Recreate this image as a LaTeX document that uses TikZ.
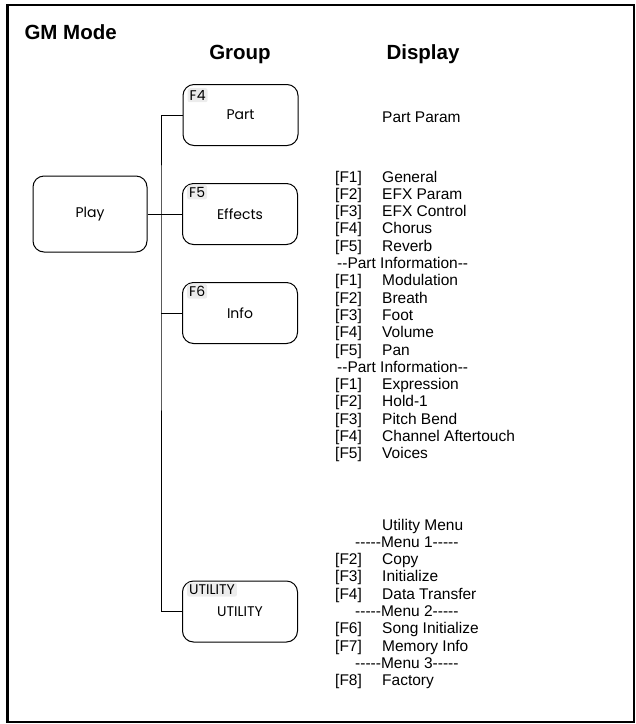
\documentclass[tikz,border=0pt]{standalone}
\usepackage{fontspec}
\setmainfont{Liberation Sans}
\newfontfamily\boxfont{Poppins}
\usepackage{xcolor}
\definecolor{tagfill}{RGB}{236,236,236}
\usetikzlibrary{positioning}

% key column of the display list: [Fx] then a tab
\newcommand{\keytab}[1]{\makebox[47pt][l]{[#1]}}

\tikzset{
  groupbox/.style={draw, line width=1pt, rounded corners=11pt, minimum width=115pt,
                   minimum height=61pt, font=\boxfont\fontsize{14}{16}\selectfont},
  tagbox/.style={fill=tagfill, rounded corners=2pt, inner sep=2pt, anchor=north west,
                 font=\boxfont\fontsize{14}{16}\selectfont},
  header/.style={font=\bfseries\fontsize{20.5}{24}\selectfont},
  disp/.style={anchor=base west, inner sep=0pt, font=\fontsize{15.5}{17}\selectfont},
  link/.style={line width=0.8pt},
}

\begin{document}
\begin{tikzpicture}[x=1pt, y=-1pt]
\useasboundingbox (0,0) rectangle (636,724);

% --- Frame and headers ---
\draw[line width=2.5pt] (7.5,5) rectangle (634,722);
\node[header, anchor=west] (title) at (21,32) {GM Mode};
\node[header] (group-head) at (240,54) {Group};
\node[header] (display-head) at (423,54) {Display};

% --- Group boxes ---
\node[groupbox, minimum width=114pt, minimum height=76pt] (play) at (90,214) {Play};
\node[groupbox] (part) at (240.5,115) {Part};
\node[groupbox] (effects) at (240,214) {Effects};
\node[groupbox] (info) at (240,313) {Info};
\node[groupbox] (utility) at (240,611.5) {UTILITY};

% function key tags
\node[tagbox] (part-tag) at ([shift={(5,4)}]part.north west) {F4};
\node[tagbox] (effects-tag) at ([shift={(5,2)}]effects.north west) {F5};
\node[tagbox] (info-tag) at ([shift={(5,2)}]info.north west) {F6};
\node[tagbox] (utility-tag) at ([shift={(5,2)}]utility.north west) {UTILITY};

% --- Connectors ---
\coordinate (trunk) at (161,214);
\draw[link] (play.east) -- (effects.west);
\draw[link] (part.west) -| (trunk) |- (utility.west);
\draw[link] (info.west) -- (info.west -| trunk);

% --- Display: Part ---
\node[disp] (part-param) at (382,122) {Part Param};

% --- Display: Effects / Info ---
\node[disp] (fx-1) at (335,182.0) {\keytab{F1}General};
\node[disp] (fx-2) at (335,199.3) {\keytab{F2}EFX Param};
\node[disp] (fx-3) at (335,216.6) {\keytab{F3}EFX Control};
\node[disp] (fx-4) at (335,233.9) {\keytab{F4}Chorus};
\node[disp] (fx-5) at (335,251.2) {\keytab{F5}Reverb};
\node[disp] (info-a) at (337,268.5) {-{}-Part Information-{}-};
\node[disp] (info-1) at (335,285.8) {\keytab{F1}Modulation};
\node[disp] (info-2) at (335,303.1) {\keytab{F2}Breath};
\node[disp] (info-3) at (335,320.4) {\keytab{F3}Foot};
\node[disp] (info-4) at (335,337.7) {\keytab{F4}Volume};
\node[disp] (info-5) at (335,355.0) {\keytab{F5}Pan};
\node[disp] (info-b) at (337,372.3) {-{}-Part Information-{}-};
\node[disp] (info-6) at (335,389.6) {\keytab{F1}Expression};
\node[disp] (info-7) at (335,406.9) {\keytab{F2}Hold-1};
\node[disp] (info-8) at (335,424.2) {\keytab{F3}Pitch Bend};
\node[disp] (info-9) at (335,441.5) {\keytab{F4}Channel Aftertouch};
\node[disp] (info-10) at (335,458.8) {\keytab{F5}Voices};

% --- Display: Utility ---
\node[disp] (util-head) at (382,530.0) {Utility Menu};
\node[disp] (menu-1) at (355,547.3) {-{}-{}-{}-{}-Menu 1-{}-{}-{}-{}-};
\node[disp] (util-2) at (335,564.6) {\keytab{F2}Copy};
\node[disp] (util-3) at (335,581.9) {\keytab{F3}Initialize};
\node[disp] (util-4) at (335,599.2) {\keytab{F4}Data Transfer};
\node[disp] (menu-2) at (355,616.5) {-{}-{}-{}-{}-Menu 2-{}-{}-{}-{}-};
\node[disp] (util-6) at (335,633.8) {\keytab{F6}Song Initialize};
\node[disp] (util-7) at (335,651.1) {\keytab{F7}Memory Info};
\node[disp] (menu-3) at (355,668.4) {-{}-{}-{}-{}-Menu 3-{}-{}-{}-{}-};
\node[disp] (util-8) at (335,685.7) {\keytab{F8}Factory};

\end{tikzpicture}
\end{document}
